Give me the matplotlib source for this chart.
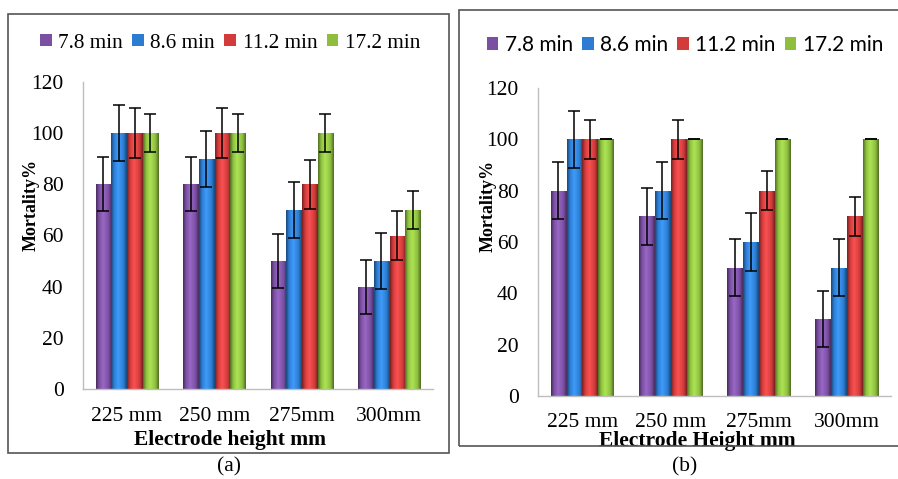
import numpy as np
import matplotlib
matplotlib.use("Agg")
import matplotlib.pyplot as plt
from matplotlib.patches import Patch, Rectangle
from matplotlib.colors import LinearSegmentedColormap, to_rgb

categories = ["225 mm", "250 mm", "275mm", "300mm"]
series = ["7.8 min", "8.6 min", "11.2 min", "17.2 min"]
colors = ["#7B4FA2", "#2C7DD2", "#D23B3B", "#8DBE3E"]

# Panel (a)
a_vals = {
    "7.8 min": [80, 80, 50, 40],
    "8.6 min": [100, 90, 70, 50],
    "11.2 min": [100, 100, 80, 60],
    "17.2 min": [100, 100, 100, 70],
}
a_err = {"7.8 min": 10.5, "8.6 min": 11, "11.2 min": 9.7, "17.2 min": 7.3}

# Panel (b)
b_vals = {
    "7.8 min": [80, 70, 50, 30],
    "8.6 min": [100, 80, 60, 50],
    "11.2 min": [100, 100, 80, 70],
    "17.2 min": [100, 100, 100, 100],
}
b_err = {"7.8 min": 11, "8.6 min": 11.2, "11.2 min": 7.6, "17.2 min": 0}

yticks = [0, 20, 40, 60, 80, 100, 120]

W, H = 898, 479
fig = plt.figure(figsize=(W / 100, H / 100), dpi=100)
fig.patch.set_facecolor("white")

SERIF = ["Liberation Serif", "DejaVu Serif"]


def shade(c):
    r, g, b = to_rgb(c)
    dark = (r * 0.55, g * 0.55, b * 0.55)
    light = tuple(min(1, v * 1.12 + 0.06) for v in (r, g, b))
    return LinearSegmentedColormap.from_list(
        "s", [(0, dark), (0.18, (r, g, b)), (0.45, light), (0.8, (r, g, b)), (1, dark)])


def px_axes(l, r, b, t):
    return fig.add_axes([l / W, (H - b) / H, (r - l) / W, (b - t) / H])


def draw_panel(ax, vals, errs, xlabel, xl_coords, yl_coords, xpad):
    x = np.arange(len(categories)) + 0.5
    width = 0.172
    step = 0.18
    grad = np.linspace(0, 1, 64).reshape(1, -1)
    for i, s in enumerate(series):
        off = (i - 1.5) * step
        bars = ax.bar(x + off, vals[s], width=width, color=colors[i],
                      edgecolor="none", zorder=2)
        cm = shade(colors[i])
        for p in bars.patches:
            x0, y0 = p.get_x(), p.get_y()
            im = ax.imshow(grad, cmap=cm, aspect="auto", zorder=2.5,
                           extent=(x0, x0 + p.get_width(), y0, y0 + p.get_height()),
                           interpolation="bicubic")
            im.set_clip_path(p)
        ax.errorbar(x + off, vals[s], yerr=errs[s], fmt="none", ecolor="black",
                    elinewidth=1.1, capsize=4, capthick=1.1, zorder=4)
    ax.set_xlim(0, len(categories))
    ax.set_ylim(0, 120)
    ax.set_yticks(yticks)
    ax.set_xticks(x)
    ax.set_xticklabels(categories, fontfamily=SERIF, fontsize=15.5)
    ax.set_yticklabels([str(v) for v in yticks], fontfamily=SERIF, fontsize=15.5)
    ax.tick_params(axis="both", length=0)
    ax.tick_params(axis="y", pad=14)
    ax.tick_params(axis="x", pad=xpad)
    for sp in ["top", "right"]:
        ax.spines[sp].set_visible(False)
    for sp in ["left", "bottom"]:
        ax.spines[sp].set_color("#BDBDBD")
        ax.spines[sp].set_linewidth(1.0)
    ax.set_facecolor("none")
    ax.set_xlabel(xlabel, fontfamily=SERIF, fontsize=15.5, fontweight="bold")
    ax.xaxis.set_label_coords(*xl_coords)
    ax.xaxis.label.set_va("center")
    ax.set_ylabel("Mortality%", fontfamily=SERIF, fontsize=13, fontweight="bold")
    ax.yaxis.set_label_coords(*yl_coords)
    ax.yaxis.label.set_va("center")


# frames
fig.patches.append(Rectangle((8 / W, (H - 453) / H), 441 / W, 439 / H,
                             transform=fig.transFigure, fill=False,
                             edgecolor="#555555", linewidth=1.2))
fig.patches.append(Rectangle((459 / W, (H - 446) / H), 445 / W, 436 / H,
                             transform=fig.transFigure, fill=False,
                             edgecolor="#555555", linewidth=1.2))

axA = px_axes(83, 433, 389, 82)
draw_panel(axA, a_vals, a_err, "Electrode height mm", (0.421, -0.166), (-0.149, 0.599), 13)
axB = px_axes(538, 891, 396, 88)
draw_panel(axB, b_vals, b_err, "Electrode Height mm", (0.452, -0.146), (-0.142, 0.617), 12)

handles = [Patch(facecolor=c, edgecolor="none") for c in colors]
fig.legend(handles, series, loc="center", bbox_to_anchor=(230 / W, 1 - 43 / H),
           ncol=4, frameon=False, handlelength=0.55, handleheight=0.55,
           handletextpad=0.3, columnspacing=0.45,
           prop={"family": SERIF, "size": 15.3})
fig.legend(handles, series, loc="center", bbox_to_anchor=(685 / W, 1 - 45 / H),
           ncol=4, frameon=False, handlelength=0.55, handleheight=0.55,
           handletextpad=0.3, columnspacing=0.45,
           prop={"family": ["Lato", "DejaVu Sans"], "size": 15})

fig.text(229 / W, 1 - 467 / H, "(a)", ha="center", va="center",
         fontfamily=SERIF, fontsize=15.5)
fig.text(685 / W, 1 - 467 / H, "(b)", ha="center", va="center",
         fontfamily=SERIF, fontsize=15.5)

fig.savefig("out.png", dpi=100, facecolor="white")
